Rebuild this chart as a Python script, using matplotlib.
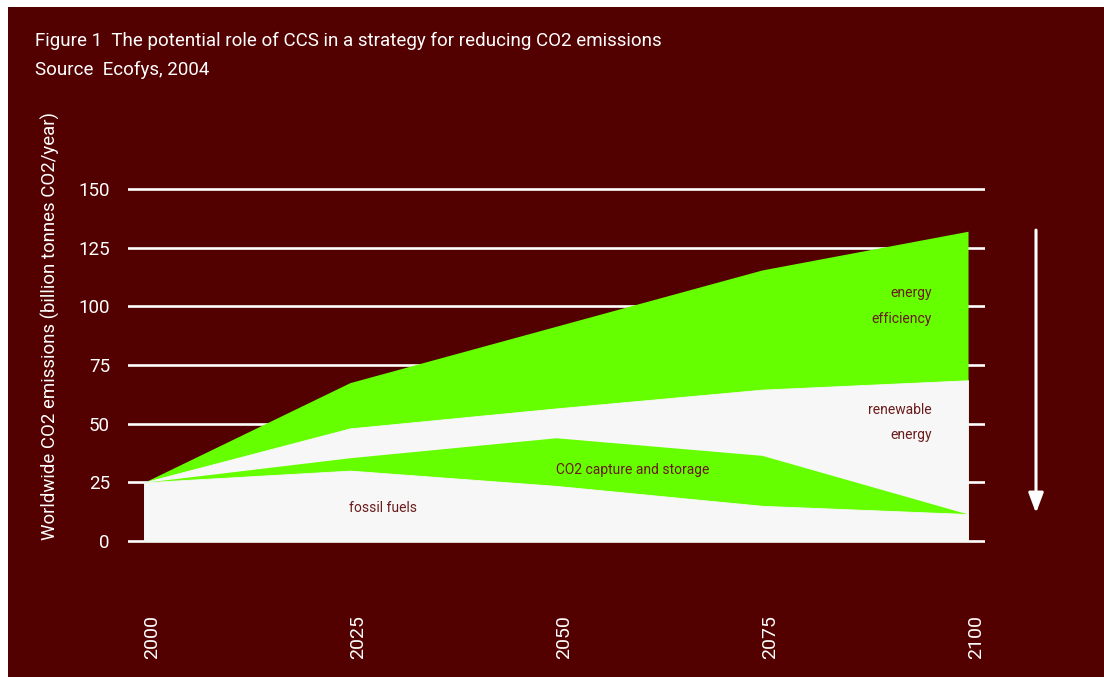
import matplotlib
matplotlib.use('Agg')
import matplotlib.pyplot as plt
import matplotlib.transforms as mtransforms
from matplotlib.patches import Rectangle

# values (billion tonnes CO2 / year), stacked tops
years = [2000, 2025, 2050, 2075, 2100]
fossil = [25, 30, 23.5, 15, 11.5]
ccs_top = [25, 35.5, 44, 36.5, 11.5]
renew_top = [25, 48, 56.5, 64.5, 68.5]
total = [25, 67.5, 91.5, 115.5, 132]
y_ticks = [0, 25, 50, 75, 100, 125, 150]

BG = '#530000'
GREEN = '#66ff00'
WHITE = '#f7f7f7'
TXT = '#6a1b1b'

plt.rcParams['font.family'] = ['Roboto', 'DejaVu Sans']

W, H = 1104, 677
fig = plt.figure(figsize=(W / 100, H / 100), dpi=100, facecolor='white')
fig.patches.append(Rectangle((8 / W, 0), 1 - 8 / W, 1 - 7 / H, transform=fig.transFigure,
                             facecolor=BG, edgecolor='none', zorder=-10))

ax = fig.add_axes([128 / W, 1 - 550 / H, (985 - 128) / W, 370 / H])
ax.set_facecolor('none')
ax.set_xlim(1998.06, 2102.06)
ax.set_ylim(-3.83, 153.83)

for v in y_ticks:
    ax.axhline(v, color='white', lw=1.9, zorder=0)

# layered fills, from the top band down
ax.fill_between(years, 0, total, color=GREEN, lw=0, zorder=2)
ax.fill_between(years, 0, renew_top, facecolor=WHITE, edgecolor=WHITE, lw=0.6, zorder=3)
ax.fill_between(years, 0, ccs_top, color=GREEN, lw=0, zorder=4)
ax.fill_between(years, 0, fossil, facecolor=WHITE, edgecolor=WHITE, lw=0.6, zorder=5)

for s in ax.spines.values():
    s.set_visible(False)
ax.tick_params(length=0, colors='white', labelsize=13.5)
ax.set_yticks(y_ticks)
ax.tick_params(axis='y', pad=13)
ax.set_xticks(years)
ax.set_xticklabels([str(y) for y in years], rotation=90, va='top', ha='center')
ax.tick_params(axis='x', pad=47, labelsize=14)
off = mtransforms.ScaledTranslation(8 / 100, 0, fig.dpi_scale_trans)
for lab in ax.get_xticklabels():
    lab.set_transform(lab.get_transform() + off)

# band labels
ax.text(2029, 14.2, 'fossil fuels', color=TXT, fontsize=10, ha='center', va='center', zorder=6)
ax.text(2059.3, 30.1, 'CO2 capture and storage', color=TXT, fontsize=10, ha='center', va='center', zorder=6)
ax.text(2095.6, 105.6, 'energy', color=TXT, fontsize=10, ha='right', va='center', zorder=6)
ax.text(2095.6, 94.5, 'efficiency', color=TXT, fontsize=10, ha='right', va='center', zorder=6)
ax.text(2095.6, 55.8, 'renewable', color=TXT, fontsize=10, ha='right', va='center', zorder=6)
ax.text(2095.6, 45.2, 'energy', color=TXT, fontsize=10, ha='right', va='center', zorder=6)

# downward arrow
ax.annotate('', xy=(2108.25, 11.9), xytext=(2108.25, 132.5),
            arrowprops=dict(arrowstyle='-|>,head_length=1.2,head_width=0.45',
                            color='white', lw=2.2, mutation_scale=10,
                            shrinkA=0, shrinkB=0),
            annotation_clip=False)

fig.text(35 / W, 1 - 41 / H, 'Figure 1  The potential role of CCS in a strategy for reducing CO2 emissions',
         color='white', fontsize=13.5, va='center', ha='left')
fig.text(35 / W, 1 - 70 / H, 'Source  Ecofys, 2004', color='white', fontsize=13.5, va='center', ha='left')
fig.text(50 / W, 1 - 326 / H, 'Worldwide CO2 emissions (billion tonnes CO2/year)', color='white',
         fontsize=13.4, rotation=90, va='center', ha='center')

fig.savefig('out.png', dpi=100, facecolor=fig.get_facecolor())
